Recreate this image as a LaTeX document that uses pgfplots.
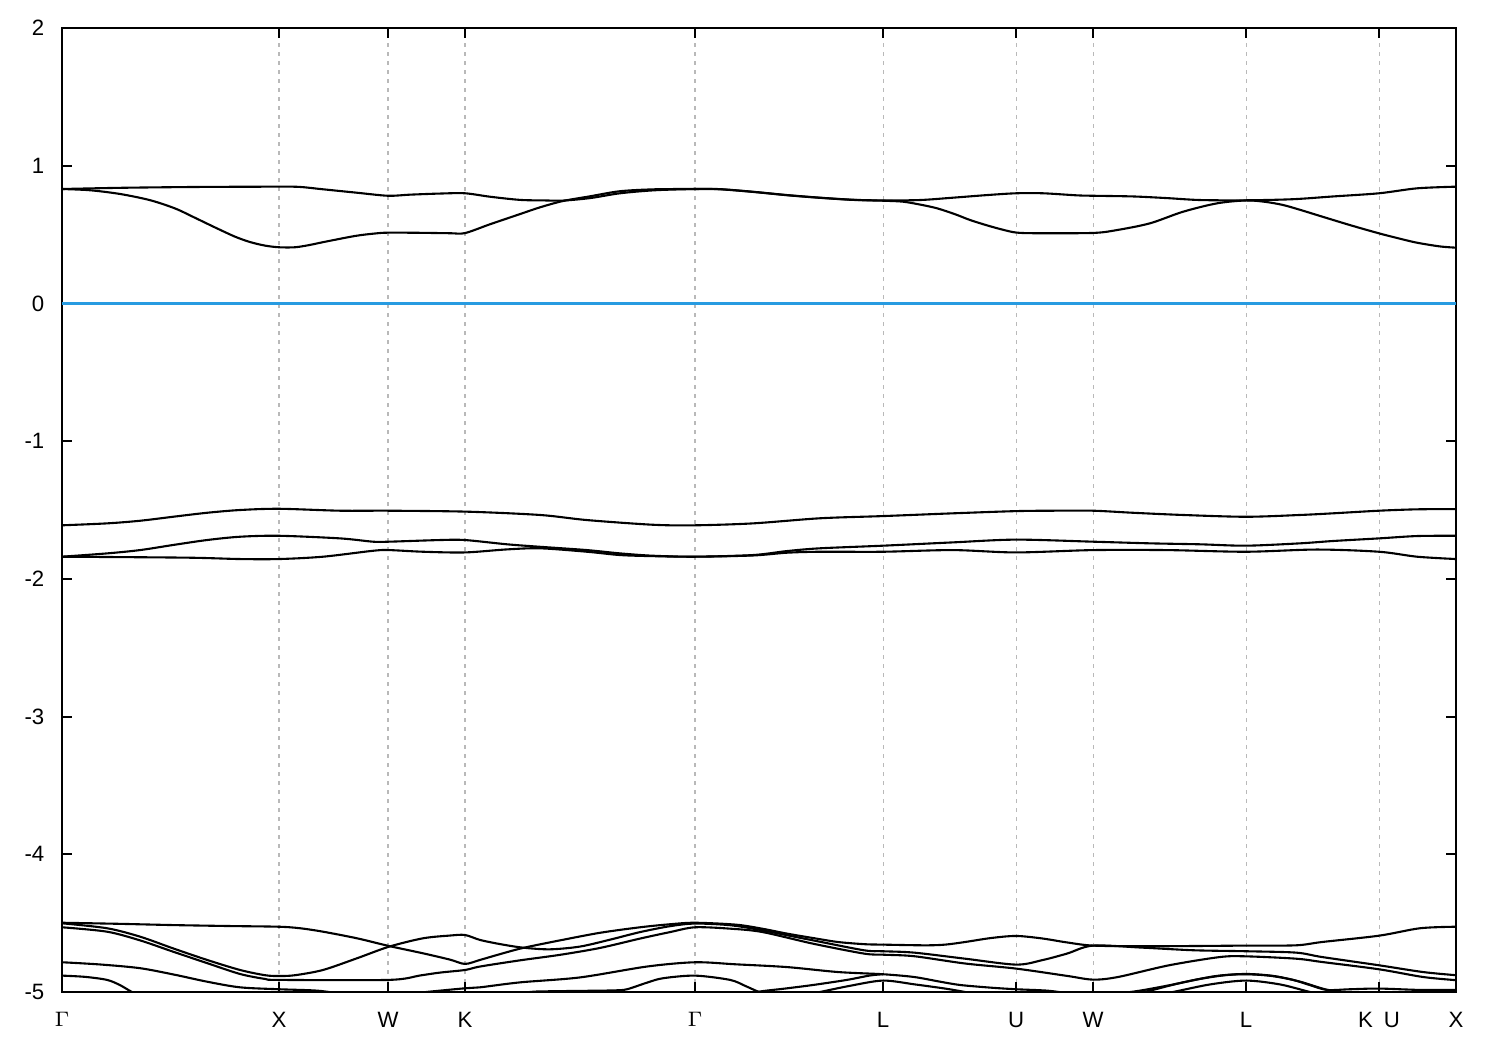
\documentclass[border=0pt]{standalone}
\usepackage{fontspec}
\setmainfont{Liberation Sans}
\usepackage{pgfplots}
\pgfplotsset{compat=1.18}
\tikzset{band/.style={black, solid, no markers, line width=0.7pt, smooth}}
\begin{document}
\begin{tikzpicture}
\path[use as bounding box] (-20.67pt,-19.33pt) rectangle (479.33pt,330.67pt);
\begin{axis}[
  at={(0pt,0pt)}, anchor=south west,
  scale only axis, width=464.67pt, height=321.33pt,
  xmin=62, xmax=1456, ymin=-5, ymax=2,
  xtick={62,279,388,465,695,883,1016,1093,1246,1379,1456},
  xticklabels={$\Gamma$,X,W,K,$\Gamma$,L,U,W,L,K\hspace{0.5em}U,X},
  ytick={-5,-4,-3,-2,-1,0,1,2},
  yticklabels={-5,-4,-3,-2,-1,0,1,2},
  tick align=inside, xtick pos=both, ytick pos=both,
  major tick length=3.3pt,
  tick style={black, line width=0.7pt},
  axis line style={black, line width=0.85pt},
  xmajorgrids,
  grid style={gray!55, line width=0.35pt, dash pattern=on 1.3pt off 1.7pt},
  xticklabel style={font=\fontsize{7.4}{9}\selectfont, inner sep=0pt, anchor=north, yshift=-6.5pt},
  yticklabel style={font=\fontsize{7.4}{9}\selectfont, inner sep=0pt, anchor=east, xshift=-5.7pt},
]
% zero line
\addplot[color={rgb,255:red,40;green,155;blue,225}, line width=0.8pt, no markers] coordinates {(62,0) (1456,0)};
% band A
\addplot[band] coordinates {(62,0.831) (123,0.840) (200,0.846) (279,0.848) (300,0.846) (323,0.829) (357,0.804) (388,0.782) (410,0.790) (440,0.798) (465,0.800) (490,0.775) (520,0.752) (545,0.748) (563,0.747) (590,0.765) (620,0.800) (655,0.822) (695,0.831) (720,0.830) (753,0.811) (787,0.787) (820,0.768) (853,0.753) (883,0.748) (920,0.751) (953,0.768) (987,0.787) (1016,0.800) (1043,0.800) (1077,0.785) (1093,0.782) (1133,0.777) (1167,0.765) (1200,0.751) (1246,0.749) (1293,0.757) (1333,0.777) (1379,0.800) (1417,0.836) (1456,0.848)};
% band B
\addplot[band] coordinates {(62,0.831) (90,0.822) (120,0.795) (150,0.750) (175,0.690) (195,0.622) (215,0.552) (235,0.485) (250,0.446) (265,0.420) (279,0.408) (295,0.408) (310,0.425) (323,0.445) (355,0.490) (375,0.508) (388,0.514) (420,0.513) (450,0.510) (465,0.511) (490,0.575) (520,0.649) (540,0.698) (563,0.744) (590,0.778) (620,0.815) (655,0.829) (695,0.831) (720,0.829) (753,0.810) (787,0.786) (820,0.767) (853,0.752) (883,0.746) (903,0.739) (920,0.718) (937,0.691) (955,0.648) (970,0.606) (987,0.567) (1003,0.535) (1016,0.515) (1035,0.510) (1093,0.512) (1117,0.533) (1150,0.582) (1183,0.666) (1217,0.727) (1246,0.748) (1265,0.738) (1283,0.715) (1300,0.680) (1317,0.642) (1350,0.569) (1379,0.509) (1400,0.470) (1417,0.441) (1440,0.414) (1456,0.405)};
% band C
\addplot[band] coordinates {(62,-1.611) (107,-1.597) (140,-1.578) (173,-1.549) (207,-1.520) (240,-1.500) (279,-1.491) (340,-1.505) (389,-1.505) (467,-1.512) (540,-1.536) (587,-1.573) (653,-1.607) (695,-1.611) (753,-1.597) (820,-1.560) (883,-1.544) (953,-1.524) (1016,-1.508) (1053,-1.505) (1093,-1.505) (1133,-1.520) (1183,-1.536) (1246,-1.549) (1300,-1.536) (1333,-1.524) (1379,-1.505) (1417,-1.495) (1456,-1.493)};
% band D
\addplot[band] coordinates {(62,-1.839) (107,-1.815) (140,-1.791) (173,-1.754) (207,-1.718) (240,-1.694) (279,-1.687) (340,-1.706) (373,-1.730) (389,-1.730) (440,-1.718) (465,-1.718) (507,-1.749) (540,-1.767) (587,-1.791) (620,-1.815) (653,-1.832) (695,-1.839) (753,-1.827) (787,-1.798) (820,-1.778) (883,-1.759) (953,-1.735) (1016,-1.715) (1093,-1.730) (1150,-1.742) (1200,-1.749) (1246,-1.759) (1300,-1.742) (1333,-1.725) (1379,-1.706) (1417,-1.689) (1456,-1.687)};
% band E
\addplot[band] coordinates {(62,-1.839) (187,-1.846) (240,-1.856) (279,-1.856) (323,-1.839) (373,-1.796) (389,-1.791) (423,-1.803) (465,-1.808) (507,-1.786) (540,-1.778) (587,-1.803) (620,-1.827) (653,-1.835) (695,-1.839) (753,-1.830) (787,-1.810) (820,-1.803) (883,-1.803) (953,-1.791) (1016,-1.808) (1093,-1.791) (1167,-1.791) (1246,-1.803) (1317,-1.787) (1379,-1.803) (1417,-1.839) (1456,-1.856)};
% band F
\addplot[band] coordinates {(62,-4.497) (120,-4.505) (173,-4.514) (230,-4.521) (279,-4.526) (300,-4.537) (323,-4.562) (357,-4.610) (389,-4.666) (423,-4.719) (450,-4.765) (465,-4.796) (480,-4.767) (500,-4.725) (523,-4.680) (560,-4.625) (600,-4.570) (640,-4.530) (670,-4.508) (695,-4.497) (736,-4.511) (762,-4.540) (787,-4.576) (813,-4.608) (838,-4.637) (865,-4.653) (883,-4.656) (925,-4.661) (945,-4.656) (965,-4.637) (991,-4.608) (1016,-4.593) (1042,-4.611) (1067,-4.640) (1093,-4.663) (1143,-4.668) (1194,-4.666) (1246,-4.663) (1296,-4.661) (1322,-4.637) (1379,-4.591) (1420,-4.537) (1456,-4.526)};
% band G
\addplot[band] coordinates {(62,-4.501) (107,-4.537) (140,-4.598) (173,-4.683) (207,-4.767) (240,-4.840) (265,-4.878) (279,-4.884) (295,-4.878) (323,-4.840) (357,-4.755) (389,-4.671) (423,-4.610) (450,-4.590) (465,-4.586) (480,-4.622) (500,-4.652) (523,-4.678) (550,-4.690) (580,-4.670) (610,-4.620) (640,-4.565) (670,-4.522) (695,-4.503) (730,-4.515) (762,-4.552) (813,-4.625) (864,-4.697) (883,-4.704) (914,-4.714) (965,-4.758) (1016,-4.801) (1042,-4.769) (1067,-4.721) (1093,-4.663) (1143,-4.678) (1194,-4.697) (1246,-4.704) (1296,-4.714) (1322,-4.746) (1379,-4.806) (1423,-4.855) (1456,-4.878)};
% band H
\addplot[band] coordinates {(62,-4.530) (107,-4.562) (140,-4.625) (173,-4.707) (207,-4.790) (240,-4.869) (265,-4.905) (279,-4.912) (389,-4.912) (420,-4.880) (440,-4.859) (465,-4.840) (480,-4.815) (520,-4.770) (560,-4.730) (600,-4.680) (640,-4.612) (670,-4.565) (695,-4.530) (730,-4.540) (762,-4.564) (813,-4.649) (864,-4.721) (883,-4.729) (914,-4.740) (965,-4.793) (1016,-4.830) (1067,-4.883) (1093,-4.910) (1118,-4.891) (1169,-4.806) (1220,-4.746) (1246,-4.741) (1296,-4.758) (1322,-4.782) (1379,-4.835) (1423,-4.891) (1456,-4.914)};
% band I
\addplot[band] coordinates {(62,-4.784) (100,-4.800) (140,-4.827) (175,-4.875) (207,-4.925) (240,-4.966) (279,-4.980) (317,-4.990) (345,-5.015) (375,-5.025) (405,-5.015) (433,-4.995) (465,-4.973) (480,-4.966) (520,-4.930) (580,-4.894) (647,-4.815) (695,-4.784) (736,-4.799) (787,-4.819) (838,-4.855) (883,-4.871) (914,-4.891) (940,-4.925) (960,-4.949) (990,-4.968) (1016,-4.980) (1047,-4.990) (1070,-5.010) (1093,-5.020) (1118,-5.010) (1140,-4.990) (1170,-4.950) (1200,-4.905) (1225,-4.878) (1246,-4.871) (1270,-4.882) (1293,-4.912) (1310,-4.950) (1327,-4.985) (1350,-4.980) (1379,-4.975) (1420,-4.985) (1456,-4.985)};
% band J
\addplot[band] coordinates {(62,-4.881) (85,-4.890) (107,-4.912) (120,-4.950) (132,-5.000) (145,-5.04)};
\addplot[band] coordinates {(500,-5.03) (530,-5.0) (547,-4.995) (590,-4.991) (615,-4.988) (627,-4.980) (647,-4.932) (663,-4.900) (695,-4.881) (730,-4.912) (745,-4.955) (759,-5.000) (775,-5.04)};
% humps at L
\addplot[band] coordinates {(740,-5.04) (757,-5.0) (785,-4.975) (813,-4.949) (847,-4.912) (870,-4.880) (883,-4.871)};
\addplot[band] coordinates {(800,-5.03) (820,-5.0) (850,-4.955) (883,-4.917) (915,-4.945) (945,-4.975) (965,-5.0) (985,-5.03)};
\addplot[band] coordinates {(1150,-5.03) (1173,-5.0) (1210,-4.945) (1246,-4.917) (1280,-4.945) (1310,-5.0) (1330,-5.03)};
\addplot[band] coordinates {(1130,-5.02) (1150,-4.99) (1180,-4.935) (1215,-4.885) (1246,-4.869) (1275,-4.885) (1300,-4.925) (1320,-4.97) (1335,-5.0)};
\end{axis}
\end{tikzpicture}
\end{document}
